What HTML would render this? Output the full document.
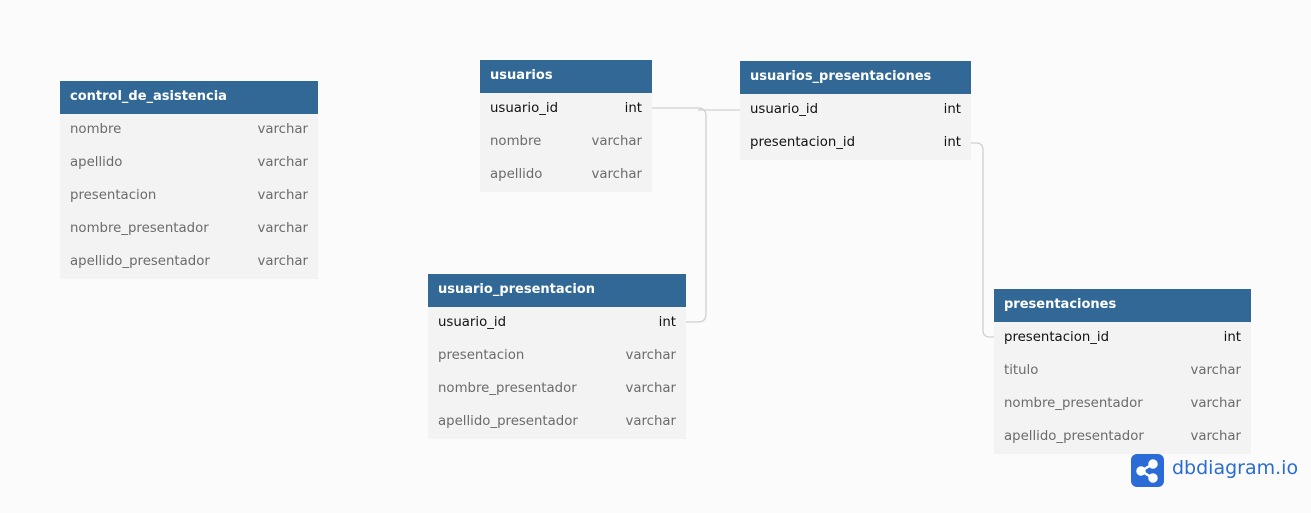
<!DOCTYPE html>
<html><head><style>
body{margin:0;width:1311px;height:513px;background:#fbfbfb;position:relative;overflow:hidden;font-family:"DejaVu Sans","Liberation Sans",sans-serif;}
.t{position:absolute;}
.h{background:#316896;color:#fff;font-weight:bold;font-size:13px;height:33px;line-height:31px;padding:0 10px;box-sizing:border-box;}
.r{background:#f3f3f3;height:33px;line-height:31px;font-size:13.3px;color:#6b6b6b;padding:0 10px;display:flex;justify-content:space-between;box-sizing:border-box;}
.k{color:#111;}
svg{position:absolute;left:0;top:0;}
.logo{position:absolute;left:1131px;top:454px;width:33px;height:33px;border-radius:6px;background:#2a6bd8;}
.lt{position:absolute;left:1172px;top:457px;font-size:19px;color:#2a6bd8;font-family:"DejaVu Sans",sans-serif;}
</style></head><body>
<svg width="1311" height="513"><g fill="none" stroke="#cfcfcf" stroke-width="1.3">
<path d="M652 108 H698 Q706 108 706 116 V314 Q706 322 698 322 H686"/>
<path d="M698 110 H740"/>
<path d="M971 143 H976 Q983 143 983 150 V330 Q983 337 990 337 H994"/>
</g></svg>
<div class="t" style="left:60px;top:81px;width:258px">
<div class="h">control_de_asistencia</div>
<div class="r"><span>nombre</span><span>varchar</span></div>
<div class="r"><span>apellido</span><span>varchar</span></div>
<div class="r"><span>presentacion</span><span>varchar</span></div>
<div class="r"><span>nombre_presentador</span><span>varchar</span></div>
<div class="r"><span>apellido_presentador</span><span>varchar</span></div>
</div>
<div class="t" style="left:480px;top:60px;width:172px">
<div class="h">usuarios</div>
<div class="r k"><span>usuario_id</span><span>int</span></div>
<div class="r"><span>nombre</span><span>varchar</span></div>
<div class="r"><span>apellido</span><span>varchar</span></div>
</div>
<div class="t" style="left:740px;top:61px;width:231px">
<div class="h">usuarios_presentaciones</div>
<div class="r k"><span>usuario_id</span><span>int</span></div>
<div class="r k"><span>presentacion_id</span><span>int</span></div>
</div>
<div class="t" style="left:428px;top:274px;width:258px">
<div class="h">usuario_presentacion</div>
<div class="r k"><span>usuario_id</span><span>int</span></div>
<div class="r"><span>presentacion</span><span>varchar</span></div>
<div class="r"><span>nombre_presentador</span><span>varchar</span></div>
<div class="r"><span>apellido_presentador</span><span>varchar</span></div>
</div>
<div class="t" style="left:994px;top:289px;width:257px">
<div class="h">presentaciones</div>
<div class="r k"><span>presentacion_id</span><span>int</span></div>
<div class="r"><span>titulo</span><span>varchar</span></div>
<div class="r"><span>nombre_presentador</span><span>varchar</span></div>
<div class="r"><span>apellido_presentador</span><span>varchar</span></div>
</div>
<div class="logo"><svg width="33" height="33"><g stroke="#fff" stroke-width="2.5" fill="#fff"><line x1="10" y1="17" x2="22" y2="10"/><line x1="10" y1="17" x2="22" y2="24"/><circle cx="10" cy="17" r="3.5"/><circle cx="22" cy="10" r="3.5"/><circle cx="22" cy="24" r="3.5"/></g></svg></div>
<div class="lt">dbdiagram.io</div>
</body></html>
